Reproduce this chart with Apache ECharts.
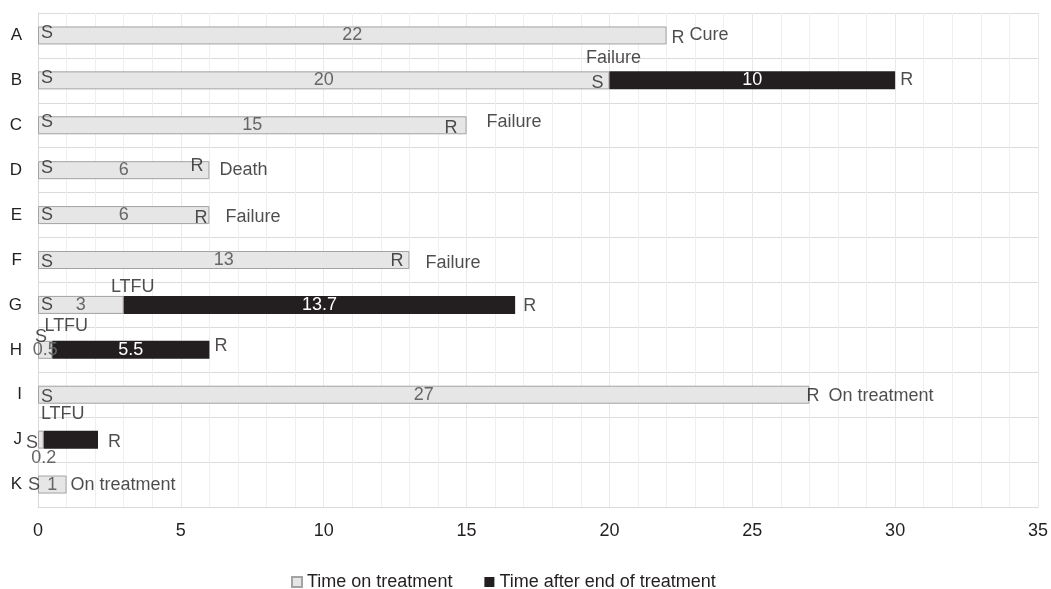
<!DOCTYPE html>
<html>
<head>
<meta charset="utf-8">
<script src="https://cdn.jsdelivr.net/npm/echarts@6/dist/echarts.min.js"></script>
<style>html,body{margin:0;padding:0;background:#fff}#chart{width:1051px;height:589px}</style>
</head>
<body>
<div id="chart"></div>
<script>
// ---- data ----
const categories = ['A','B','C','D','E','F','G','H','I','J','K'];
const timeOnTreatment = [22, 20, 15, 6, 6, 13, 3, 0.5, 27, 0.2, 1];
const timeAfterTreatment = [0, 10, 0, 0, 0, 0, 13.7, 5.5, 0, 1.9, 0];
const outcomes = ['Cure','Failure','Failure','Death','Failure','Failure','LTFU','LTFU','On treatment','LTFU','On treatment'];
const startMarks = ['S','S','S','S','S','S','S','S','S','S','S'];
const endMarks = ['R','R','R','R','R','R','R','R','R','R',''];
const xTicks = [0, 5, 10, 15, 20, 25, 30, 35];

// ---- layout (pixel offsets of annotations only) ----
// s: start mark [dx,dy]; r: end mark [dx,dy,align]; o: outcome [dx,dy]; s2: restart mark
const layout = [
  {s:[9,-2],  r:[5,3,'left'],   o:[23,0]},
  {s:[9,-2],  r:[5,0,'left'],   o:[4,-22], s2:[-6,3]},
  {s:[9,-3],  r:[-9,3,'right'], o:[20,-3]},
  {s:[9,-2],  r:[-6,-4,'right'],o:[10,0]},
  {s:[9,0],   r:[-2,3,'right'], o:[16,2]},
  {s:[9,2],   r:[-6,1,'right'], o:[16,3]},
  {s:[9,0],   r:[8,1,'left'],   o:[9,-18]},
  {s:[3,-13], r:[5,-4,'left'],  o:[14,-24]},
  {s:[9,2],   r:[-3,1,'left'],  o:[19,1]},
  {s:[-6,3],  r:[10,2,'left'],  o:[19,-26], numBelow:true, hideAfter:true},
  {s:[-4,0],  r:[0,0,'left'],   o:[4,0]}
];

const FONT = 'Liberation Sans, Arial, sans-serif';
const TXT = '#231f20';

function mk(x, cat, text, align, off) {
  return {
    value: [x, cat],
    label: {
      show: true, formatter: text, position: 'inside',
      align: align, verticalAlign: 'middle',
      offset: [off[0], off[1]],
      color: TXT, fontSize: 18, fontFamily: FONT
    }
  };
}

const annotations = [];
categories.forEach((c, i) => {
  const L = layout[i];
  const treat = timeOnTreatment[i], after = timeAfterTreatment[i];
  const total = treat + after;
  annotations.push(mk(0, c, startMarks[i], 'center', L.s));
  if (after > 0 && outcomes[i] === 'Failure') annotations.push(mk(treat, c, 'S', 'right', L.s2));
  if (endMarks[i]) annotations.push(mk(total, c, endMarks[i], L.r[2], L.r));
  if (after > 0) annotations.push(mk(treat, c, outcomes[i], 'center', L.o));
  else annotations.push(mk(total, c, outcomes[i], 'left', L.o));
});

const treatData = timeOnTreatment.map((v, i) => layout[i].numBelow
  ? {value: v, label: {position: 'bottom', distance: 0, offset: [3, 0]}}
  : v);
const afterData = timeAfterTreatment.map((v, i) => v === 0 ? '-' :
  (layout[i].hideAfter ? {value: v, label: {show: false}} : v));

const chart = echarts.init(document.getElementById('chart'));
chart.setOption({
  animation: false,
  textStyle: {fontFamily: FONT},
  grid: {left: 38, right: 11, top: 13, bottom: 82, containLabel: false},
  legend: {
    data: ['Time on treatment', 'Time after end of treatment'],
    left: 286, top: 568, itemWidth: 10, itemHeight: 10, itemGap: 32,
    icon: 'rect',
    textStyle: {color: TXT, fontSize: 18, fontFamily: FONT}
  },
  xAxis: {
    type: 'value', min: xTicks[0], max: xTicks[xTicks.length - 1], interval: 5,
    axisLine: {show: true, lineStyle: {color: '#d9d9d9'}},
    axisTick: {show: false},
    axisLabel: {color: TXT, fontSize: 18, margin: 15, fontFamily: FONT},
    splitLine: {show: true, lineStyle: {color: '#e9e9e9'}},
    minorTick: {show: false, splitNumber: 5},
    minorSplitLine: {show: true, lineStyle: {color: '#efefef'}}
  },
  yAxis: {
    type: 'category', data: categories, inverse: true,
    axisLine: {show: true, lineStyle: {color: '#d9d9d9'}},
    axisTick: {show: false},
    axisLabel: {color: TXT, fontSize: 17, margin: 16, fontFamily: FONT},
    splitLine: {show: true, lineStyle: {color: '#dcdcdc'}}
  },
  series: [
    {
      name: 'Time on treatment', type: 'bar', stack: 'total', barWidth: 18,
      data: treatData,
      itemStyle: {color: '#e6e6e6', borderColor: '#a3a3a3', borderWidth: 1},
      label: {show: true, position: 'inside', color: '#666666', fontSize: 18, fontFamily: FONT}
    },
    {
      name: 'Time after end of treatment', type: 'bar', stack: 'total', barWidth: 18,
      data: afterData,
      itemStyle: {color: '#231f20'},
      label: {show: true, position: 'inside', color: '#ffffff', fontSize: 18, fontFamily: FONT}
    },
    {
      name: 'annotations', type: 'scatter', data: annotations,
      symbolSize: 1, itemStyle: {color: 'transparent'}, silent: true, z: 10
    }
  ]
});
</script>
</body>
</html>
